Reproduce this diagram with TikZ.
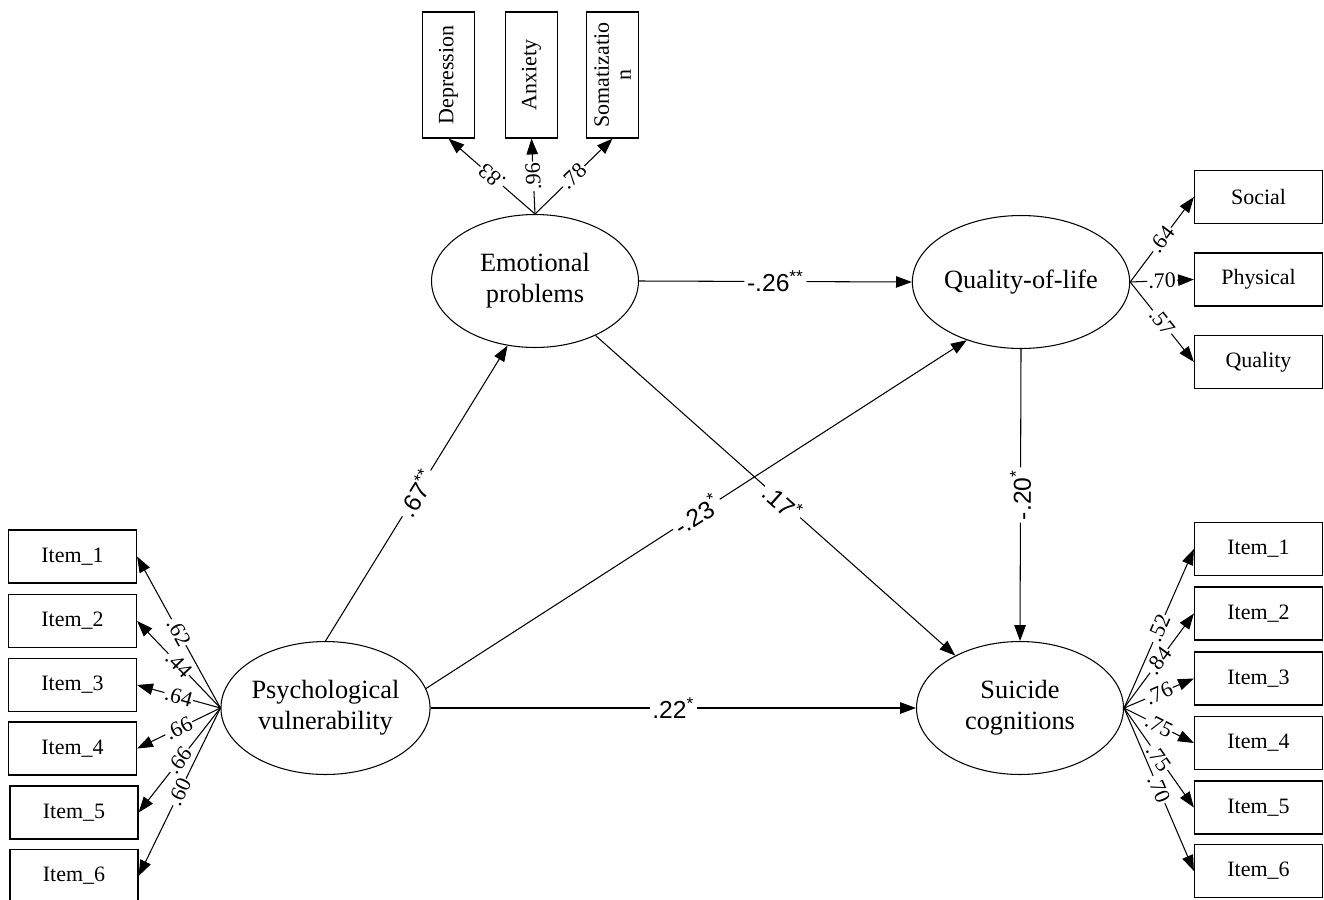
\documentclass[tikz,border=0pt]{standalone}
\usepackage{fontspec}
\setmainfont{Liberation Serif}
\newfontfamily\coeffont{Liberation Sans}
\usetikzlibrary{arrows.meta, shapes.geometric}

\begin{document}
\begin{tikzpicture}[x=0.02cm, y=-0.02cm,
    latent/.style={ellipse, draw, line width=0.6pt, minimum width=4.14cm, minimum height=2.66cm,
        inner sep=0pt, align=center, font=\fontsize{15}{17.5}\selectfont},
    obs/.style={rectangle, draw, line width=0.7pt, minimum width=2.56cm, minimum height=1.06cm,
        inner sep=0pt, font=\fontsize{12.5}{14}\selectfont},
    indic/.style={obs, rotate=90, minimum width=2.52cm, minimum height=1.03cm, align=center,
        font=\fontsize{12.5}{12.5}\selectfont},
    conn/.style={-{Triangle[length=9pt,width=6.5pt]}, line width=0.6pt},
    load/.style={font=\fontsize{12.5}{14}\selectfont, fill=white, inner sep=0.6pt, sloped, pos=0.5},
    coef/.style={font=\coeffont\fontsize{14}{16}\selectfont, fill=white, inner sep=1.5pt, sloped, pos=0.5}]
    \useasboundingbox (0,0) rectangle (1324,899);

    % Latent variables
    \node[latent] (emo) at (535,281) {Emotional\\problems};
    \node[latent] (qol) at (1021,282) {Quality-of-life};
    \node[latent] (psy) at (325.5,708) {Psychological\\vulnerability};
    \node[latent] (sui) at (1020,708) {Suicide\\cognitions};

    % Indicators of emotional problems
    \node[indic] (dep) at (448.5,75) {Depression};
    \node[indic] (anx) at (531.5,75) {Anxiety};
    \node[indic] (som) at (612.5,75) {Somatizatio\\n};

    % Indicators of quality-of-life
    \node[obs] (soc) at (1258.5,197) {Social};
    \node[obs] (phy) at (1258.5,279.5) {Physical};
    \node[obs] (qua) at (1258.5,362) {Quality};

    % Items
    \foreach \i/\x/\y in {1/72.5/556.5, 2/72.5/621, 3/72.5/685, 4/72.5/748.5, 5/74/812.5, 6/74/876}
        \node[obs] (l\i) at (\x,\y) {Item\_\i};
    \foreach \i/\y in {1/549, 2/613.5, 3/678.5, 4/743, 5/807.5, 6/871}
        \node[obs] (r\i) at (1258.5,\y) {Item\_\i};

    % Loadings
    \draw[conn] (emo.north) -- node[load, allow upside down] {.83} (dep.west);
    \draw[conn] (emo.north) -- node[load, allow upside down] {.96} (anx.west);
    \draw[conn] (emo.north) -- node[load, allow upside down] {.78} (som.west);
    \draw[conn] (qol.east) -- node[load] {.64} (soc.west);
    \draw[conn] (qol.east) -- node[load] {.70} (phy.west);
    \draw[conn] (qol.east) -- node[load] {.57} (qua.west);
    \foreach \i/\v in {1/.62, 2/.44, 3/.64, 4/.66, 5/.66, 6/.60}
        \draw[conn] (psy.west) -- node[load] {\v} (l\i.east);
    \foreach \i/\v in {1/.52, 2/.84, 3/.76, 4/.75, 5/.75, 6/.70}
        \draw[conn] (sui.east) -- node[load] {\v} (r\i.west);

    % Structural paths
    \draw[conn] (psy.north) -- node[coef] {.67\textsuperscript{**}} (emo.247);
    \draw[conn] (psy.11) -- node[coef] {-.23\textsuperscript{*}} (qol.227);
    \draw[conn] (psy.east) -- node[coef] {.22\textsuperscript{*}} (sui.west);
    \draw[conn] (emo.east) -- node[coef] {-.26\textsuperscript{**}} (qol.west);
    \draw[conn] (emo.318) -- node[coef, pos=0.52] {.17\textsuperscript{*}} (sui.141);
    \draw[conn] (qol.south) -- node[coef] {-.20\textsuperscript{*}} (sui.north);
\end{tikzpicture}
\end{document}
